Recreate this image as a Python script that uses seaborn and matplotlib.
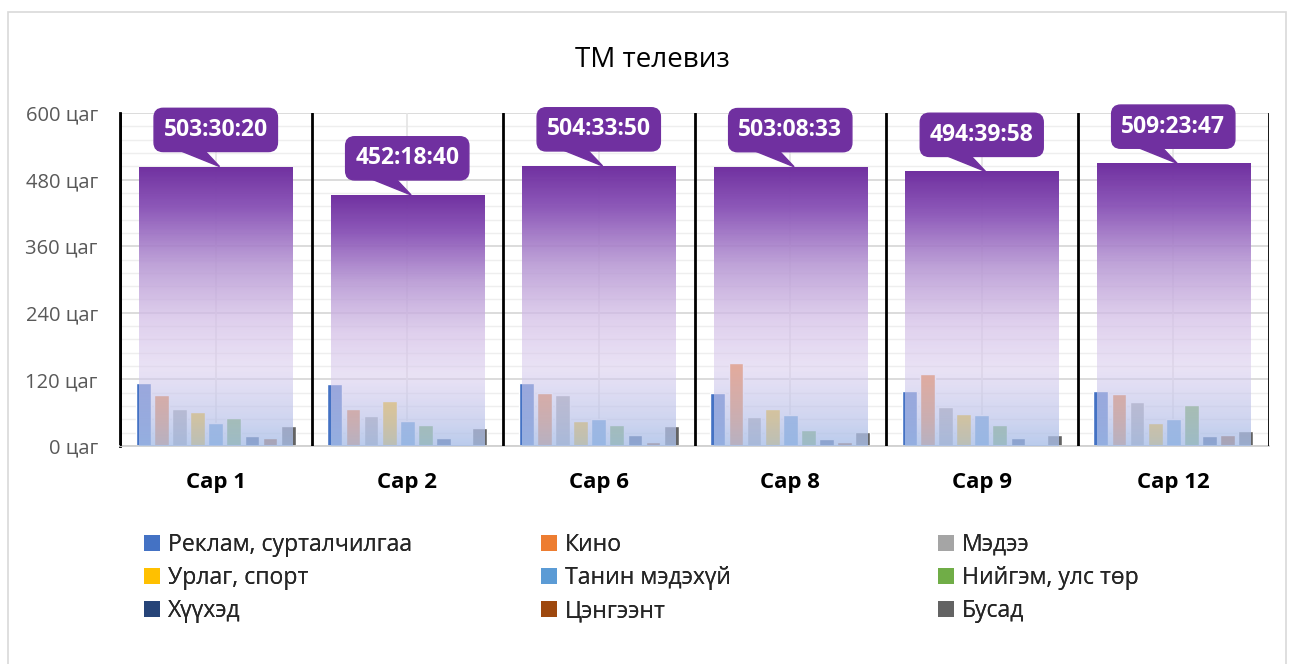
import numpy as np
import pandas as pd
import matplotlib
matplotlib.use("Agg")
import matplotlib.pyplot as plt
import seaborn as sns
from matplotlib.patches import Patch, Polygon, Rectangle
from matplotlib.colors import to_rgb

# ---------------- data ----------------
months = ["Сар 1", "Сар 2", "Сар 6", "Сар 8", "Сар 9", "Сар 12"]
categories = ["Реклам, сурталчилгаа", "Кино", "Мэдээ", "Урлаг, спорт", "Танин мэдэхүй",
              "Нийгэм, улс төр", "Хүүхэд", "Цэнгээнт", "Бусад"]
cat_colors = ["#4472C4", "#ED7D31", "#A5A5A5", "#FFC000", "#5B9BD5",
              "#70AD47", "#264478", "#9E480E", "#636363"]

# hours per category, one list per month
sar1 = [113, 92, 66, 62, 41, 50, 17.5, 14.4, 36]
sar2 = [112, 67, 53.5, 80.5, 44.5, 37, 14, 0, 33]
sar6 = [113, 96, 92.5, 44.5, 49, 37, 19, 6.6, 35.5]
sar8 = [96, 150, 51.7, 66, 55, 28, 12.6, 6.6, 26]
sar9 = [98.5, 130, 70, 57, 55, 38.5, 14, 0, 19]
sar12 = [98.5, 93, 79, 42, 48, 74.5, 18.7, 20, 26.5]

# totals as h:m:s
total_labels = ["503:30:20", "452:18:40", "504:33:50", "503:08:33", "494:39:58", "509:23:47"]

yticks = [0, 120, 240, 360, 480, 600]

def hms_to_hours(s):
    h, m, sec = (int(p) for p in s.split(":"))
    return h + m / 60 + sec / 3600

totals = [hms_to_hours(s) for s in total_labels]

rows = []
for m, vals in zip(months, [sar1, sar2, sar6, sar8, sar9, sar12]):
    for c, v in zip(categories, vals):
        rows.append({"month": m, "category": c, "hours": v})
df = pd.DataFrame(rows)
df_tot = pd.DataFrame({"month": months, "total": totals})

# ---------------- style ----------------
sns.set_theme(style="white")
plt.rcParams["font.family"] = ["Open Sans", "DejaVu Sans"]

fig = plt.figure(figsize=(12.89, 6.64), dpi=100)
ax = fig.add_axes([120 / 1289, 1 - 446 / 664, (1269 - 120) / 1289, (446 - 113) / 664])

# outer chart border
fig.add_artist(Rectangle((8 / 1289, -0.02), (1286 - 8) / 1289, 1.02 - 12 / 664,
                         transform=fig.transFigure, fill=False, edgecolor="#d9d9d9", lw=1.2))

# gridlines
ax.set_axisbelow(True)
ax.set_ylim(0, 600)
ax.set_yticks(yticks)
ax.set_yticks(np.arange(0, 601, 24), minor=True)
ax.yaxis.grid(True, which="major", color="#d9d9d9", lw=1.3)
ax.yaxis.grid(True, which="minor", color="#eeeeee", lw=1.0)

# category bars
sns.barplot(data=df, x="month", y="hours", hue="category", order=months, hue_order=categories,
            palette=cat_colors, width=0.85, gap=0.18, saturation=1, legend=False, ax=ax,
            zorder=2, err_kws={"linewidth": 0})

n_before = len(ax.patches)
sns.barplot(data=df_tot, x="month", y="total", order=months, color="white", width=0.80,
            saturation=1, ax=ax, zorder=3, alpha=0.0)
total_patches = ax.patches[n_before:]

# gradient overlay for the total bars
stops = [
    (0.00, "#a9bfe8", 0.80),
    (0.10, "#bcc4ea", 0.70),
    (0.28, "#dacdee", 0.58),
    (0.45, "#d4bfe7", 0.74),
    (0.65, "#b696d3", 0.88),
    (0.85, "#8a54b7", 0.97),
    (1.00, "#7030A0", 1.00),
]
n = 256
fr = np.linspace(0, 1, n)
grad = np.zeros((n, 1, 4))
sf = [s[0] for s in stops]
for ch in range(3):
    grad[:, 0, ch] = np.interp(fr, sf, [to_rgb(s[1])[ch] for s in stops])
grad[:, 0, 3] = np.interp(fr, sf, [s[2] for s in stops])

for p in total_patches:
    x0, w, h = p.get_x(), p.get_width(), p.get_height()
    im = ax.imshow(grad, extent=[x0, x0 + w, 0, h], origin="lower", aspect="auto",
                   zorder=3, interpolation="bilinear")
    im.set_clip_path(p)

ax.set_xlim(-0.5, len(months) - 0.5)
ax.set_ylim(0, 600)

# vertical separators and faint centre lines
for i in range(len(months) + 1):
    ax.axvline(i - 0.5, color="black", lw=2, zorder=4)
for i in range(len(months)):
    ax.axvline(i, color="#e4e4e4", lw=1.2, zorder=1)

# call-out labels
for i, (t, lab) in enumerate(zip(totals, total_labels)):
    tri = Polygon([(i - 0.224, t + 34), (i - 0.073, t + 34), (i + 0.02, t)],
                  closed=True, facecolor="#7030A0", edgecolor="#7030A0", zorder=5)
    ax.add_patch(tri)
    ax.text(i, t + 66, lab, ha="center", va="center", color="white", fontsize=16.5,
            fontweight="bold", zorder=6,
            bbox=dict(boxstyle="round,pad=0.42,rounding_size=0.4", fc="#7030A0", ec="#7030A0"))

# axes styling
for s in ["top", "right"]:
    ax.spines[s].set_visible(False)
ax.spines["left"].set_color("black")
ax.spines["left"].set_linewidth(2)
ax.spines["bottom"].set_color("#d0d0d0")
ax.spines["bottom"].set_linewidth(1.3)
ax.set_yticklabels([f"{v} цаг" for v in yticks], fontsize=14.5, color="#595959")
ax.tick_params(axis="y", which="both", length=0, pad=16)
ax.tick_params(axis="x", length=0, pad=19)
for lbl in ax.get_xticklabels():
    lbl.set_fontsize(16)
    lbl.set_fontweight("bold")
    lbl.set_color("black")
ax.set_xlabel("")
ax.set_ylabel("")

# title
fig.text(652 / 1289, 1 - 60 / 664, "ТМ телевиз", ha="center", va="center", fontsize=20, color="black")

# legend: three columns, row-wise order
handles = [Patch(facecolor=c, edgecolor="none") for c in cat_colors]
col_x = [144, 541, 938]
for ci in range(3):
    idx = [ci, ci + 3, ci + 6]
    leg = fig.legend([handles[k] for k in idx], [categories[k] for k in idx],
                     loc="upper left", bbox_to_anchor=(col_x[ci] / 1289, 1 - 533 / 664),
                     frameon=False, fontsize=16.6, handlelength=0.7, handleheight=0.7,
                     handletextpad=0.35, labelspacing=0.4, borderpad=0, borderaxespad=0)
    fig.add_artist(leg)

fig.savefig("out.png", dpi=100)
